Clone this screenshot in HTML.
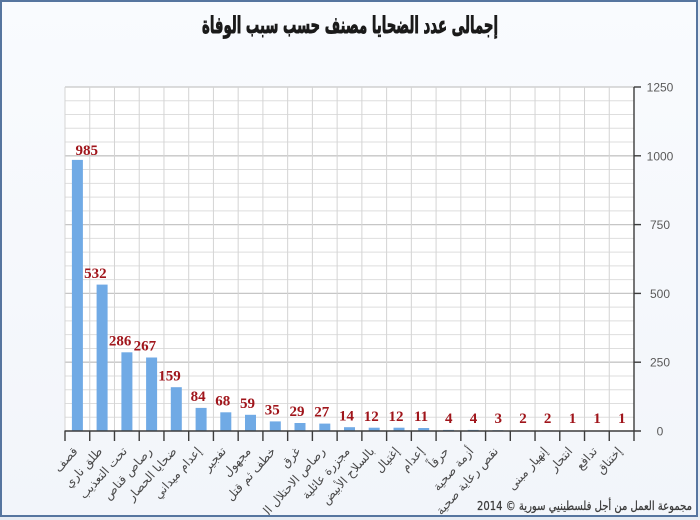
<!DOCTYPE html>
<html><head><meta charset="utf-8"><style>
html,body{margin:0;padding:0;background:#e9eef4;width:700px;height:520px;overflow:hidden;}
svg{display:block;}
</style></head><body>
<svg width="700" height="520" viewBox="0 0 700 520" xmlns="http://www.w3.org/2000/svg" overflow="hidden">
<defs>
<linearGradient id="bg" x1="0" y1="0" x2="0" y2="1">
<stop offset="0" stop-color="#f9fbfe"/><stop offset="1" stop-color="#f2f5fa"/>
</linearGradient>
<clipPath id="inner"><rect x="2" y="2" width="694" height="513"/></clipPath>
</defs>
<rect x="0" y="0" width="700" height="520" fill="#e6ebf2"/>
<rect x="1" y="1" width="696" height="515" fill="url(#bg)" stroke="#56759f" stroke-width="2"/>

<text x="350" y="33" text-anchor="middle" font-family="DejaVu Sans, sans-serif" font-weight="bold" font-size="23" fill="#1a1a1a" stroke="#1a1a1a" stroke-width="0.9" textLength="296" lengthAdjust="spacingAndGlyphs">إجمالى عدد الضحايا مصنف حسب سبب الوفاة</text>

<rect x="65" y="87" width="569" height="344" fill="#ffffff"/>
<g stroke="#dedede" stroke-width="1">
<line x1="65" x2="634" y1="417.24" y2="417.24"/><line x1="65" x2="634" y1="403.48" y2="403.48"/><line x1="65" x2="634" y1="389.72" y2="389.72"/><line x1="65" x2="634" y1="375.96" y2="375.96"/>
<line x1="65" x2="634" y1="348.44" y2="348.44"/><line x1="65" x2="634" y1="334.68" y2="334.68"/><line x1="65" x2="634" y1="320.92" y2="320.92"/><line x1="65" x2="634" y1="307.16" y2="307.16"/>
<line x1="65" x2="634" y1="279.64" y2="279.64"/><line x1="65" x2="634" y1="265.88" y2="265.88"/><line x1="65" x2="634" y1="252.12" y2="252.12"/><line x1="65" x2="634" y1="238.36" y2="238.36"/>
<line x1="65" x2="634" y1="210.84" y2="210.84"/><line x1="65" x2="634" y1="197.08" y2="197.08"/><line x1="65" x2="634" y1="183.32" y2="183.32"/><line x1="65" x2="634" y1="169.56" y2="169.56"/>
<line x1="65" x2="634" y1="142.04" y2="142.04"/><line x1="65" x2="634" y1="128.28" y2="128.28"/><line x1="65" x2="634" y1="114.52" y2="114.52"/><line x1="65" x2="634" y1="100.76" y2="100.76"/>
</g>
<g stroke="#c6c6c6" stroke-width="1.3">
<line x1="65" x2="634" y1="362.2" y2="362.2"/><line x1="65" x2="634" y1="293.4" y2="293.4"/><line x1="65" x2="634" y1="224.6" y2="224.6"/><line x1="65" x2="634" y1="155.8" y2="155.8"/><line x1="65" x2="634" y1="87" y2="87"/>
</g>
<g stroke="#d4d4d4" stroke-width="1">
<line x1="65" x2="65" y1="87" y2="431"/><line x1="89.74" x2="89.74" y1="87" y2="431"/><line x1="114.48" x2="114.48" y1="87" y2="431"/><line x1="139.22" x2="139.22" y1="87" y2="431"/><line x1="163.96" x2="163.96" y1="87" y2="431"/><line x1="188.7" x2="188.7" y1="87" y2="431"/><line x1="213.43" x2="213.43" y1="87" y2="431"/><line x1="238.17" x2="238.17" y1="87" y2="431"/><line x1="262.91" x2="262.91" y1="87" y2="431"/><line x1="287.65" x2="287.65" y1="87" y2="431"/><line x1="312.39" x2="312.39" y1="87" y2="431"/><line x1="337.13" x2="337.13" y1="87" y2="431"/><line x1="361.87" x2="361.87" y1="87" y2="431"/><line x1="386.61" x2="386.61" y1="87" y2="431"/><line x1="411.35" x2="411.35" y1="87" y2="431"/><line x1="436.09" x2="436.09" y1="87" y2="431"/><line x1="460.83" x2="460.83" y1="87" y2="431"/><line x1="485.57" x2="485.57" y1="87" y2="431"/><line x1="510.3" x2="510.3" y1="87" y2="431"/><line x1="535.04" x2="535.04" y1="87" y2="431"/><line x1="559.78" x2="559.78" y1="87" y2="431"/><line x1="584.52" x2="584.52" y1="87" y2="431"/><line x1="609.26" x2="609.26" y1="87" y2="431"/>
</g>

<g fill="#70aae5">
<rect x="71.9" y="159.9" width="11" height="271.1"/>
<rect x="96.6" y="284.6" width="11" height="146.4"/>
<rect x="121.4" y="352.3" width="11" height="78.7"/>
<rect x="146.1" y="357.5" width="11" height="73.5"/>
<rect x="170.8" y="387.2" width="11" height="43.8"/>
<rect x="195.6" y="407.9" width="11" height="23.1"/>
<rect x="220.3" y="412.3" width="11" height="18.7"/>
<rect x="245.0" y="414.8" width="11" height="16.2"/>
<rect x="269.8" y="421.4" width="11" height="9.6"/>
<rect x="294.5" y="423.0" width="11" height="8.0"/>
<rect x="319.3" y="423.6" width="11" height="7.4"/>
<rect x="344.0" y="427.2" width="11" height="3.8"/>
<rect x="368.7" y="427.7" width="11" height="3.3"/>
<rect x="393.5" y="427.7" width="11" height="3.3"/>
<rect x="418.2" y="428.0" width="11" height="3.0"/>
<rect x="443.0" y="429.9" width="11" height="1.1"/>
<rect x="467.7" y="429.9" width="11" height="1.1"/>
<rect x="492.4" y="430.2" width="11" height="0.8"/>
<rect x="517.2" y="430.4" width="11" height="0.6"/>
<rect x="541.9" y="430.4" width="11" height="0.6"/>
<rect x="566.6" y="430.7" width="11" height="0.3"/>
<rect x="591.4" y="430.7" width="11" height="0.3"/>
<rect x="616.1" y="430.7" width="11" height="0.3"/>
</g>

<g font-family="Liberation Serif, serif" font-weight="bold" font-size="15" fill="#a0151b" text-anchor="end">
<text x="98" y="155">985</text>
<text x="106.6" y="278">532</text>
<text x="131.4" y="345.5">286</text>
<text x="156.1" y="350.7">267</text>
<text x="180.8" y="380.4">159</text>
<text x="205.6" y="401">84</text>
<text x="230.3" y="405.4">68</text>
<text x="255.0" y="408">59</text>
<text x="279.8" y="414.5">35</text>
<text x="304.5" y="416.2">29</text>
<text x="329.3" y="416.7">27</text>
<text x="354.0" y="420.3">14</text>
<text x="378.7" y="420.8">12</text>
<text x="403.5" y="420.8">12</text>
<text x="428.2" y="421.1">11</text>
<text x="452.5" y="423">4</text>
<text x="477.2" y="423">4</text>
<text x="502.0" y="423">3</text>
<text x="526.7" y="423">2</text>
<text x="551.4" y="423">2</text>
<text x="576.2" y="423">1</text>
<text x="600.9" y="423">1</text>
<text x="625.6" y="423">1</text>
</g>

<g stroke="#3c3c3c" stroke-width="1.4">
<line x1="64.5" x2="641" y1="431" y2="431"/>
<line x1="634" x2="634" y1="87" y2="441"/>
<line x1="634" x2="641" y1="87" y2="87"/><line x1="634" x2="641" y1="155.8" y2="155.8"/><line x1="634" x2="641" y1="224.6" y2="224.6"/><line x1="634" x2="641" y1="293.4" y2="293.4"/><line x1="634" x2="641" y1="362.2" y2="362.2"/>
<line x1="65" x2="65" y1="431" y2="441"/><line x1="89.74" x2="89.74" y1="431" y2="441"/><line x1="114.48" x2="114.48" y1="431" y2="441"/><line x1="139.22" x2="139.22" y1="431" y2="441"/><line x1="163.96" x2="163.96" y1="431" y2="441"/><line x1="188.7" x2="188.7" y1="431" y2="441"/><line x1="213.43" x2="213.43" y1="431" y2="441"/><line x1="238.17" x2="238.17" y1="431" y2="441"/><line x1="262.91" x2="262.91" y1="431" y2="441"/><line x1="287.65" x2="287.65" y1="431" y2="441"/><line x1="312.39" x2="312.39" y1="431" y2="441"/><line x1="337.13" x2="337.13" y1="431" y2="441"/><line x1="361.87" x2="361.87" y1="431" y2="441"/><line x1="386.61" x2="386.61" y1="431" y2="441"/><line x1="411.35" x2="411.35" y1="431" y2="441"/><line x1="436.09" x2="436.09" y1="431" y2="441"/><line x1="460.83" x2="460.83" y1="431" y2="441"/><line x1="485.57" x2="485.57" y1="431" y2="441"/><line x1="510.3" x2="510.3" y1="431" y2="441"/><line x1="535.04" x2="535.04" y1="431" y2="441"/><line x1="559.78" x2="559.78" y1="431" y2="441"/><line x1="584.52" x2="584.52" y1="431" y2="441"/><line x1="609.26" x2="609.26" y1="431" y2="441"/>
</g>

<g font-family="Liberation Sans, sans-serif" font-size="12" fill="#5a5a5a" text-anchor="middle">
<text x="660" y="91.5">1250</text>
<text x="660" y="160.3">1000</text>
<text x="660" y="229.1">750</text>
<text x="660" y="297.9">500</text>
<text x="660" y="366.7">250</text>
<text x="660" y="435.5">0</text>
</g>

<g clip-path="url(#inner)" font-family="DejaVu Sans, sans-serif" font-size="12" fill="#4a4a4a" text-anchor="end">
<text transform="translate(75.4,449) rotate(-48)" y="4">قصف</text>
<text transform="translate(100.1,449) rotate(-48)" y="4">طلق ناري</text>
<text transform="translate(124.8,449) rotate(-48)" y="4">تحت التعذيب</text>
<text transform="translate(149.6,449) rotate(-48)" y="4">رصاص قناص</text>
<text transform="translate(174.3,449) rotate(-48)" y="4">ضحايا الحصار</text>
<text transform="translate(199.1,449) rotate(-48)" y="4">إعدام ميداني</text>
<text transform="translate(223.8,449) rotate(-48)" y="4">تفجير</text>
<text transform="translate(248.5,449) rotate(-48)" y="4">مجهول</text>
<text transform="translate(273.3,449) rotate(-48)" y="4">خطف ثم قتل</text>
<text transform="translate(298.0,449) rotate(-48)" y="4">غرق</text>
<text transform="translate(322.8,449) rotate(-48)" y="4">رصاص الاحتلال ال</text>
<text transform="translate(347.5,449) rotate(-48)" y="4">مجزرة عائلية</text>
<text transform="translate(372.2,449) rotate(-48)" y="4">بالسلاح الأبيض</text>
<text transform="translate(397.0,449) rotate(-48)" y="4">إغتيال</text>
<text transform="translate(421.7,449) rotate(-48)" y="4">إعدام</text>
<text transform="translate(446.5,449) rotate(-48)" y="4">حرقاً</text>
<text transform="translate(471.2,449) rotate(-48)" y="4">أزمة صحية</text>
<text transform="translate(495.9,449) rotate(-48)" y="4">نقص رعاية صحية</text>
<text transform="translate(545.4,449) rotate(-48)" y="4">إنهيار مبنى</text>
<text transform="translate(570.2,449) rotate(-48)" y="4">انتحار</text>
<text transform="translate(594.9,449) rotate(-48)" y="4">تدافع</text>
<text transform="translate(619.6,449) rotate(-48)" y="4">إختناق</text>
</g>

<text x="692" y="510" text-anchor="end" font-family="DejaVu Sans, sans-serif" font-size="12.5" fill="#3a3a3a" stroke="#3a3a3a" stroke-width="0.25" textLength="215" lengthAdjust="spacingAndGlyphs">مجموعة العمل من أجل فلسطينيي سورية © 2014</text>
</svg>
</body></html>
